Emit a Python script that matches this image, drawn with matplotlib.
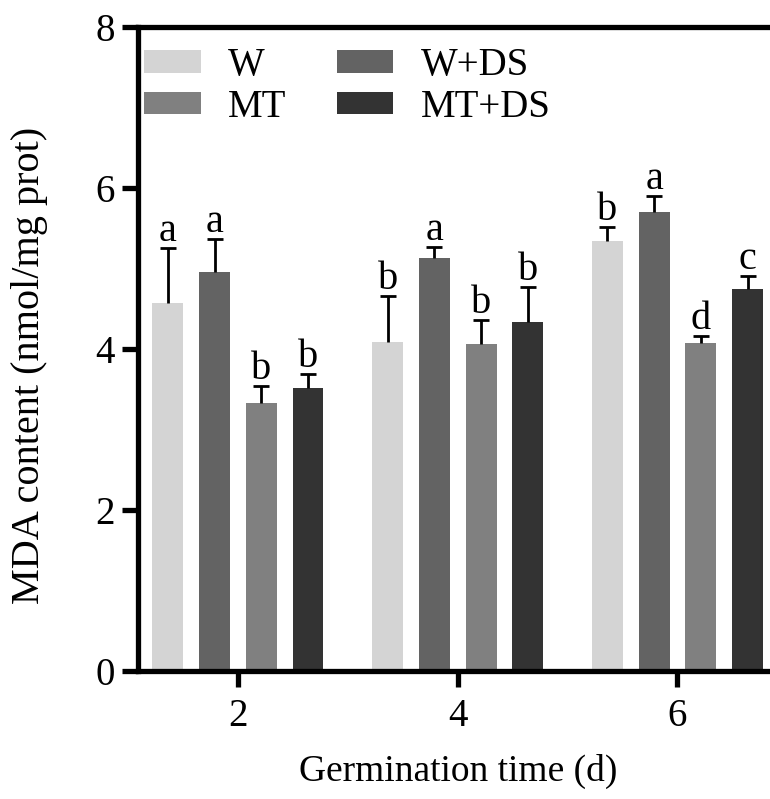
import numpy as np
import matplotlib
matplotlib.use("Agg")
import matplotlib.pyplot as plt

# data
days = ["2", "4", "6"]
groups = ["W", "W+DS", "MT", "MT+DS"]
means = {
    "W":     [4.56, 4.08, 5.34],
    "W+DS":  [4.95, 5.13, 5.70],
    "MT":    [3.32, 4.05, 4.07],
    "MT+DS": [3.51, 4.33, 4.74],
}
errs = {
    "W":     [0.69, 0.57, 0.17],
    "W+DS":  [0.41, 0.13, 0.20],
    "MT":    [0.21, 0.30, 0.09],
    "MT+DS": [0.17, 0.43, 0.16],
}
letters = {
    "W":     ["a", "b", "b"],
    "W+DS":  ["a", "a", "a"],
    "MT":    ["b", "b", "d"],
    "MT+DS": ["b", "b", "c"],
}
colors = {"W": "#d4d4d4", "W+DS": "#636363", "MT": "#808080", "MT+DS": "#333333"}

plt.rcParams["font.family"] = ["Liberation Serif", "DejaVu Serif"]
lw = 3.8

fig = plt.figure(figsize=(7.7, 7.99), dpi=100)
ax = fig.add_axes([0.1786, 0.1608, 0.8214, 0.806])

x = np.arange(len(days))
step = 0.2125
width = 0.141
offsets = {"W": -1.5 * step, "W+DS": -0.5 * step, "MT": 0.5 * step, "MT+DS": 1.5 * step}

handles = {}
for g in groups:
    m = np.array(means[g])
    e = np.array(errs[g])
    xs = x + offsets[g]
    handles[g] = ax.bar(xs, m, width, color=colors[g], zorder=2)
    eb = ax.errorbar(xs, m, yerr=[np.zeros_like(e), e], fmt="none", ecolor="black",
                     elinewidth=2.0, capsize=5.5, capthick=2.0, zorder=3)
    eb[1][0].set_visible(False)  # no lower cap
    for xi, top, lab in zip(xs, m + e, letters[g]):
        ax.annotate(lab, (xi, top), xytext=(0, 5), textcoords="offset points",
                    ha="center", va="baseline", fontsize=29)

ax.set_xlim(-0.457, 2.421)
ax.set_ylim(0, 8)
ax.set_yticks([0, 2, 4, 6, 8])
ax.set_xticks(x)
ax.set_xticklabels(days)

for s in ["left", "bottom", "top"]:
    ax.spines[s].set_linewidth(lw)
ax.spines["right"].set_visible(False)
ax.tick_params(axis="both", width=lw, length=11.5, labelsize=28)
ax.tick_params(axis="y", pad=5)
ax.tick_params(axis="x", pad=8)

ax.set_ylabel("MDA content (nmol/mg prot)", fontsize=29)
ax.yaxis.set_label_coords(-0.1415, 0.473)
ax.set_xlabel("Germination time (d)", fontsize=27)
ax.xaxis.set_label_coords(0.5075, -0.1297)

order = ["W", "MT", "W+DS", "MT+DS"]
ax.legend([handles[g] for g in order], order, ncol=2, frameon=False,
          loc="upper left", bbox_to_anchor=(-0.02, 0.998), fontsize=28,
          handlelength=1.45, handleheight=0.5, handletextpad=0.7,
          columnspacing=1.3, labelspacing=0.12, borderpad=0)

fig.savefig("out.png", dpi=100)
